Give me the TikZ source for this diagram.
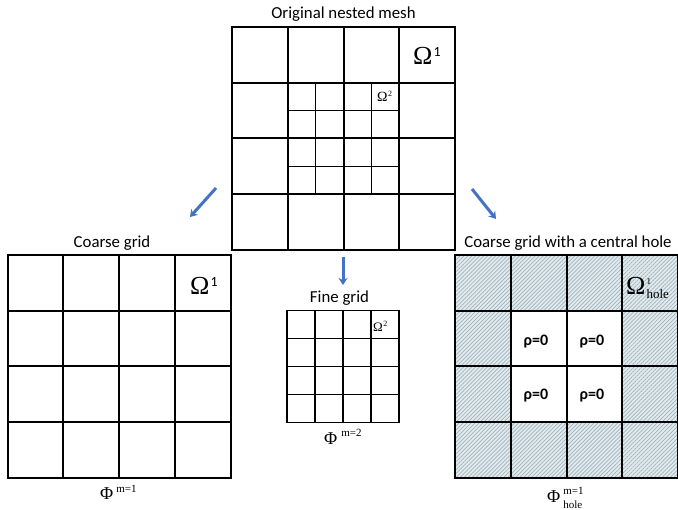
\documentclass[tikz,border=0pt]{standalone}
\usepackage{fontspec}
\setmainfont{Carlito}
\newfontfamily\symfont{Liberation Serif}
\usetikzlibrary{patterns.meta,arrows.meta}
\definecolor{arrowblue}{HTML}{4472C4}
\definecolor{hatchbg}{HTML}{E2EAEE}
\definecolor{hatchline}{HTML}{9DB2BC}
\tikzset{
  gridbox/.style={draw=black,line width=2pt,minimum size=#1,inner sep=0pt,outer sep=0pt},
  coarseline/.style={line width=2pt},
  fineline/.style={line width=1.3pt},
  flowarrow/.style={draw=arrowblue,line width=3pt,-{Stealth[length=7pt,width=9pt]}},
  titletext/.style={font=\fontsize{16.8}{19}\selectfont,inner sep=0pt},
  rhotext/.style={font=\fontsize{16}{18}\selectfont\bfseries,inner sep=0pt},
  symtext/.style={inner sep=0pt,anchor=base west}
}
\newcommand{\bigOmegaOne}{{\fontsize{26}{28}\selectfont\symfont Ω}\kern1pt\raisebox{8pt}{\fontsize{14}{14}\selectfont 1}}
\newcommand{\smallOmegaTwo}[1]{{\fontsize{#1}{#1}\selectfont\symfont Ω}\kern0.5pt\raisebox{5pt}{\fontsize{8}{8}\selectfont\symfont 2}}
\begin{document}
\begin{tikzpicture}[x=1pt,y=-1pt]
\useasboundingbox (0,0) rectangle (678,510);

% ---------- top: original nested mesh ----------
\node[titletext] (ttop) at (343.5,14) {Original nested mesh};
\node[gridbox=223pt] (top) at (343.5,138.5) {};
\foreach \i in {1,2,3}{
  \draw[coarseline] (232+\i*55.75,27) -- (232+\i*55.75,250);
  \draw[coarseline] (232,27+\i*55.75) -- (455,27+\i*55.75);
}
\foreach \i in {1.5,2.5}{
  \draw[fineline] (232+\i*55.75,27+55.75) -- (232+\i*55.75,27+3*55.75);
  \draw[fineline] (232+55.75,27+\i*55.75) -- (232+3*55.75,27+\i*55.75);
}
\node[symtext] (om1top) at (413,65) {\bigOmegaOne};
\node[symtext] (om2top) at (377,102) {\smallOmegaTwo{14}};

% ---------- left: coarse grid ----------
\node[titletext] (tleft) at (112,243) {Coarse grid};
\node[gridbox=223pt] (coarse) at (119,366.5) {};
\foreach \i in {1,2,3}{
  \draw[coarseline] (7.5+\i*55.75,255) -- (7.5+\i*55.75,478);
  \draw[coarseline] (7.5,255+\i*55.75) -- (230.5,255+\i*55.75);
}
\node[symtext] (om1left) at (190,295) {\bigOmegaOne};
\node[symtext] (phileft) at (100,500) {{\fontsize{18}{20}\selectfont\symfont Φ}\kern3pt\raisebox{7pt}{\fontsize{11}{12}\selectfont\symfont m=1}};

% ---------- middle: fine grid ----------
\node[titletext] (tmid) at (339.5,298) {Fine grid};
\node[gridbox=112pt,line width=1.5pt] (fine) at (343,366.5) {};
\foreach \i in {1,2,3}{
  \draw[line width=1.5pt] (287+\i*28,310.5) -- (287+\i*28,422.5);
  \draw[line width=1.5pt] (287,310.5+\i*28) -- (399,310.5+\i*28);
}
\node[symtext] (om2fine) at (373,332) {\smallOmegaTwo{13}};
\node[symtext] (phimid) at (324,445) {{\fontsize{18}{20}\selectfont\symfont Φ}\kern4pt\raisebox{8pt}{\fontsize{11}{12}\selectfont\symfont m=2}};

% ---------- right: coarse grid with hole ----------
\node[titletext] (tright) at (568,243) {Coarse grid with a central hole};
\fill[hatchbg] (455,255) rectangle (678,478);
\fill[pattern={Lines[angle=45,distance=2.8pt,line width=0.7pt]},pattern color=hatchline] (455,255) rectangle (678,478);
\fill[white] (455+55.75,255+55.75) rectangle (455+3*55.75,255+3*55.75);
\node[gridbox=223pt] (hole) at (566.5,366.5) {};
\foreach \i in {1,2,3}{
  \draw[coarseline] (455+\i*55.75,255) -- (455+\i*55.75,478);
  \draw[coarseline] (455,255+\i*55.75) -- (678,255+\i*55.75);
}
\node[symtext] (om1hole) at (626,295) {{\fontsize{26}{28}\selectfont\symfont Ω}\kern1pt\rlap{\raisebox{10pt}{\fontsize{9}{9}\selectfont\symfont 1}}\raisebox{-3.5pt}{\fontsize{13}{13}\selectfont\symfont hole}};
\node[rhotext] (r1) at (536,342) {ρ=0};
\node[rhotext] (r2) at (592,342) {ρ=0};
\node[rhotext] (r3) at (536,396) {ρ=0};
\node[rhotext] (r4) at (592,396) {ρ=0};
\node[symtext] (phihole) at (547,503) {{\fontsize{18}{20}\selectfont\symfont Φ}\kern3pt\rlap{\raisebox{8pt}{\fontsize{11}{12}\selectfont\symfont m=1}}\raisebox{-6pt}{\fontsize{11}{12}\selectfont\symfont hole}};

% ---------- arrows ----------
\coordinate (la1) at (216,188);
\coordinate (la2) at (190,217);
\coordinate (ra1) at (472,189);
\coordinate (ra2) at (496,219);
\coordinate (ma1) at (343,257);
\coordinate (ma2) at (343,285);
\draw[flowarrow] (la1) -- (la2);
\draw[flowarrow] (ra1) -- (ra2);
\draw[flowarrow] (ma1) -- (ma2);
\end{tikzpicture}
\end{document}
